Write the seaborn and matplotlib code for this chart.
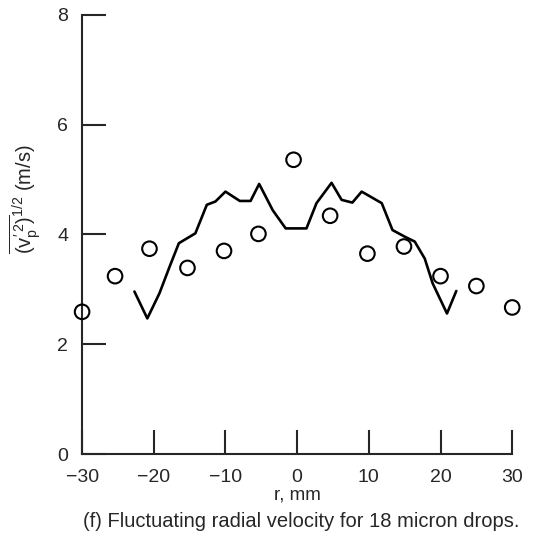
import numpy as np
import pandas as pd
import matplotlib
matplotlib.use("Agg")
import matplotlib.pyplot as plt
import seaborn as sns

# measured drop data (circles)
r_pts = [-30.0, -25.4, -20.6, -15.3, -10.2, -5.4, -0.5, 4.6, 9.8, 14.9, 20.0, 25.0, 30.0]
v_pts = [2.59, 3.24, 3.74, 3.39, 3.70, 4.01, 5.36, 4.34, 3.65, 3.78, 3.24, 3.06, 2.67]

# prediction (solid line)
r_line = [-22.7, -20.9, -19.2, -17.8, -16.5, -14.2, -12.6, -11.4, -10.0, -8.0, -6.5,
          -5.3, -3.4, -1.6, 1.3, 2.7, 4.8, 6.2, 7.7, 9.0, 11.8, 13.3, 15.0, 16.4,
          17.8, 18.9, 20.9, 22.2]
v_line = [2.96, 2.47, 2.93, 3.41, 3.84, 4.02, 4.54, 4.60, 4.78, 4.61, 4.61,
          4.92, 4.44, 4.11, 4.11, 4.57, 4.94, 4.63, 4.58, 4.78, 4.57, 4.08, 3.96, 3.87,
          3.56, 3.11, 2.56, 2.97]

x_ticks = [-30, -20, -10, 0, 10, 20, 30]
y_ticks = [0, 2, 4, 6, 8]

sns.set_style("ticks")
plt.rcParams["font.family"] = ["Liberation Sans", "DejaVu Sans"]
plt.rcParams["mathtext.fontset"] = "custom"
plt.rcParams["mathtext.rm"] = "Liberation Sans"
plt.rcParams["mathtext.it"] = "Liberation Sans"

pts = pd.DataFrame({"r": r_pts, "v": v_pts})
line = pd.DataFrame({"r": r_line, "v": v_line})

fig = plt.figure(figsize=(5.33, 5.5), dpi=100)
ax = fig.add_axes([0.154, 0.1745, 0.807, 0.7985])

sns.lineplot(data=line, x="r", y="v", sort=False, estimator=None,
             color="black", linewidth=1.9, ax=ax)
sns.scatterplot(data=pts, x="r", y="v", marker="o", s=110, facecolor="none",
                edgecolor="black", linewidth=1.5, clip_on=False, zorder=3, ax=ax)

ax.set_xlim(-30, 30)
ax.set_ylim(0, 8)
ax.set_xticks(x_ticks)
ax.set_yticks(y_ticks)
ax.set_xticklabels(["\u221230", "\u221220", "\u221210", "0", "10", "20", "30"])
ax.tick_params(direction="in", length=17, width=1.5, labelsize=14, pad=10.5)
ax.tick_params(axis="y", pad=10)

sns.despine(ax=ax)
for s in ["left", "bottom"]:
    ax.spines[s].set_linewidth(1.5)

ax.set_xlabel("r, mm", fontsize=13.5, labelpad=1)
ax.set_ylabel(r"$\overline{(v_p^{\prime\,2})}^{1/2}$ (m/s)", fontsize=14.5)
ax.yaxis.set_label_coords(-0.09, 0.58)

fig.text(0.565, 0.052, "(f) Fluctuating radial velocity for 18 micron drops.",
         ha="center", va="center", fontsize=14.5)

fig.savefig("out.png", dpi=100)
